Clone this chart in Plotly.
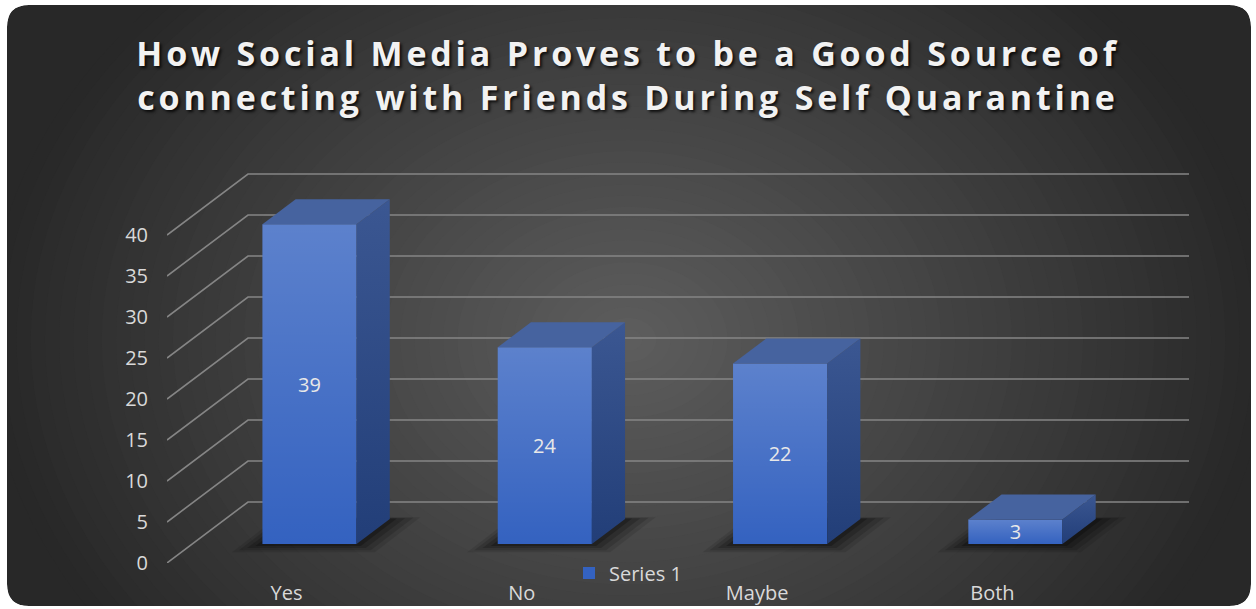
import plotly.graph_objects as go

# ---------------- data ----------------
categories = ["Yes", "No", "Maybe", "Both"]
values = [39, 24, 22, 3]
y_ticks = [0, 5, 10, 15, 20, 25, 30, 35, 40]
series_name = "Series 1"
title_lines = ["How Social Media Proves to be a Good Source of",
               "connecting with Friends During Self Quarantine"]

# ---------------- geometry (pixels of the 1256x609 canvas) ----------------
W, H = 1256, 609
PL, PR, PT, PB = 167, 1189, 170, 563      # plot area
PX_PER_CAT = 235.3
PX_PER_VAL = 8.2
X0_PX = 309.5      # pixel x of category 0 on the bar front plane
BASE_PX = 544      # pixel y of value 0 on the bar front plane

x_range = [(PL - X0_PX) / PX_PER_CAT, (PR - X0_PX) / PX_PER_CAT]
y_range = [(BASE_PX - PB) / PX_PER_VAL, (BASE_PX - PT) / PX_PER_VAL]

DEPTH_X = 81 / PX_PER_CAT     # full floor depth (x units)
DEPTH_Y = 61 / PX_PER_VAL     # full floor depth (y units)
BAR_PLANE = 19 / 61           # bar front plane, fraction of depth
BAR_DEPTH = 0.41
BAR_W = 0.4

GRID_COLOR = "#858585"
TEXT_COLOR = "#d9d9d9"
FONT = "Open Sans"


def pxx(px):
    return (px - PL) / (PR - PL)


def pxy(py):
    return (PB - py) / (PB - PT)


shapes = []

# ---------------- background (rounded dark panel with radial gradient) ----------------
BL, BT, BR, BB, RAD = 7, 5, 1251, 606, 22


def rounded_rect_path(l, t, r, b, rad):
    pts = [
        f"M{pxx(l + rad)},{pxy(t)}",
        f"L{pxx(r - rad)},{pxy(t)}",
        f"Q{pxx(r)},{pxy(t)} {pxx(r)},{pxy(t + rad)}",
        f"L{pxx(r)},{pxy(b - rad)}",
        f"Q{pxx(r)},{pxy(b)} {pxx(r - rad)},{pxy(b)}",
        f"L{pxx(l + rad)},{pxy(b)}",
        f"Q{pxx(l)},{pxy(b)} {pxx(l)},{pxy(b - rad)}",
        f"L{pxx(l)},{pxy(t + rad)}",
        f"Q{pxx(l)},{pxy(t)} {pxx(l + rad)},{pxy(t)}",
        "Z",
    ]
    return " ".join(pts)


EDGE = (40, 40, 40)
CENTER = (94, 94, 94)
CX, CY, RX, RY = 628, 340, 640, 500

shapes.append(dict(type="path", xref="paper", yref="paper",
                   path=rounded_rect_path(BL, BT, BR, BB, RAD),
                   fillcolor="rgb(%d,%d,%d)" % EDGE, line=dict(width=0), layer="below"))
N = 45
for k in range(N):
    r = 1 - k / N
    c = tuple(int(round(EDGE[j] + (CENTER[j] - EDGE[j]) * (1 - r))) for j in range(3))
    shapes.append(dict(type="circle", xref="paper", yref="paper",
                       x0=pxx(CX - RX * r), x1=pxx(CX + RX * r),
                       y0=pxy(CY + RY * r), y1=pxy(CY - RY * r),
                       fillcolor="rgb(%d,%d,%d)" % c, line=dict(width=0), layer="below"))
# white mask outside the rounded panel
outer = f"M{pxx(-60)},{pxy(-60)} L{pxx(W + 60)},{pxy(-60)} L{pxx(W + 60)},{pxy(H + 60)} L{pxx(-60)},{pxy(H + 60)} Z "
shapes.append(dict(type="path", xref="paper", yref="paper",
                   path=outer + rounded_rect_path(BL, BT, BR, BB, RAD),
                   fillrule="evenodd", fillcolor="white", line=dict(width=0), layer="below"))

# ---------------- 3D grid: diagonal side wall lines + back wall lines ----------------
xf = x_range[0]
xb = x_range[0] + DEPTH_X
for v in y_ticks:
    yf = v - BAR_PLANE * DEPTH_Y
    yb = v + (1 - BAR_PLANE) * DEPTH_Y
    shapes.append(dict(type="path", xref="x", yref="y",
                       path=f"M{xf},{yf} L{xb},{yb} L{x_range[1]},{yb}",
                       line=dict(color=GRID_COLOR, width=1.6), layer="below"))

# ---------------- soft floor shadows under the bars ----------------
dx = BAR_DEPTH * DEPTH_X
dy = BAR_DEPTH * DEPTH_Y
for i, v in enumerate(values):
    xl, xr = i - BAR_W / 2, i + BAR_W / 2
    for e, ey, a in [(0.13, 1.0, 0.10), (0.10, 0.75, 0.14), (0.065, 0.5, 0.18), (0.03, 0.25, 0.24)]:
        shapes.append(dict(type="path", xref="x", yref="y",
                           path=(f"M{xl - e},{-ey} L{xr + e * 0.6},{-ey} "
                                 f"L{xr + dx + e},{dy + ey * 0.2} L{xl + dx - e * 0.6},{dy + ey * 0.2} Z"),
                           fillcolor=f"rgba(0,0,0,{a})", line=dict(width=0), layer="between"))

fig = go.Figure()

# ---------------- bars (front faces) ----------------
fig.add_trace(go.Bar(
    x=list(range(len(categories))), y=values, width=BAR_W,
    name=series_name,
    marker=dict(color="#3462c0", line=dict(width=0)),
    text=[str(v) for v in values], textposition="inside", insidetextanchor="middle",
    textangle=0,
    textfont=dict(family=FONT, size=20, color="#e6e6e6"),
    constraintext="none", showlegend=True, hoverinfo="x+y",
))

# front-face light gradient overlay, top and side faces
for i, v in enumerate(values):
    xl, xr = i - BAR_W / 2, i + BAR_W / 2
    fig.add_trace(go.Scatter(
        x=[xl, xr, xr, xl, xl], y=[0, 0, v, v, 0], mode="lines", fill="toself",
        line=dict(width=0), showlegend=False, hoverinfo="skip",
        fillgradient=dict(type="vertical",
                          colorscale=[[0, "rgba(255,255,255,0)"], [1, "rgba(255,255,255,0.2)"]]),
    ))
    # right side face
    fig.add_trace(go.Scatter(
        x=[xr, xr + dx, xr + dx, xr, xr], y=[0, dy, v + dy, v, 0], mode="lines", fill="toself",
        line=dict(width=0), showlegend=False, hoverinfo="skip",
        fillgradient=dict(type="vertical", colorscale=[[0, "#223e78"], [1, "#3b5792"]]),
    ))
    # top face
    fig.add_trace(go.Scatter(
        x=[xl, xr, xr + dx, xl + dx, xl], y=[v, v, v + dy, v + dy, v], mode="lines", fill="toself",
        line=dict(width=0), fillcolor="#46639f", showlegend=False, hoverinfo="skip",
    ))

fig.update_layout(
    width=W, height=H,
    margin=dict(l=PL, r=W - PR, t=PT, b=H - PB, pad=0, autoexpand=False),
    paper_bgcolor="white", plot_bgcolor="rgba(0,0,0,0)",
    shapes=shapes,
    title=dict(text="<br>".join(title_lines), x=0.5, xref="container", xanchor="center",
               y=1 - 66 / H, yref="container", yanchor="middle",
               font=dict(family=FONT, size=34, color="#f2f2f2", weight=700,
                         shadow="2px 2px 3px rgba(0,0,0,0.8)")),
    xaxis=dict(range=x_range, tickvals=list(range(len(categories))), ticktext=categories,
               showgrid=False, zeroline=False, showline=False, ticks="",
               ticklabelshift=-23, ticklabelstandoff=16,
               tickfont=dict(family=FONT, size=20, color=TEXT_COLOR), fixedrange=True),
    yaxis=dict(range=y_range, tickvals=y_ticks,
               showgrid=False, zeroline=False, showline=False, ticks="",
               ticklabelshift=19, ticklabelstandoff=18,
               tickfont=dict(family=FONT, size=20, color=TEXT_COLOR), fixedrange=True),
    showlegend=True,
    legend=dict(orientation="h", x=pxx(569), xanchor="left", y=pxy(573), yanchor="middle",
                font=dict(family=FONT, size=20, color=TEXT_COLOR), bgcolor="rgba(0,0,0,0)"),
    bargap=0.6,
)

# Excel-style spaced title lettering
post = ("document.querySelectorAll('.gtitle').forEach(function(e){"
        "e.style.letterSpacing='3.8px';});")
fig.write_html("out.html", post_script=post)
